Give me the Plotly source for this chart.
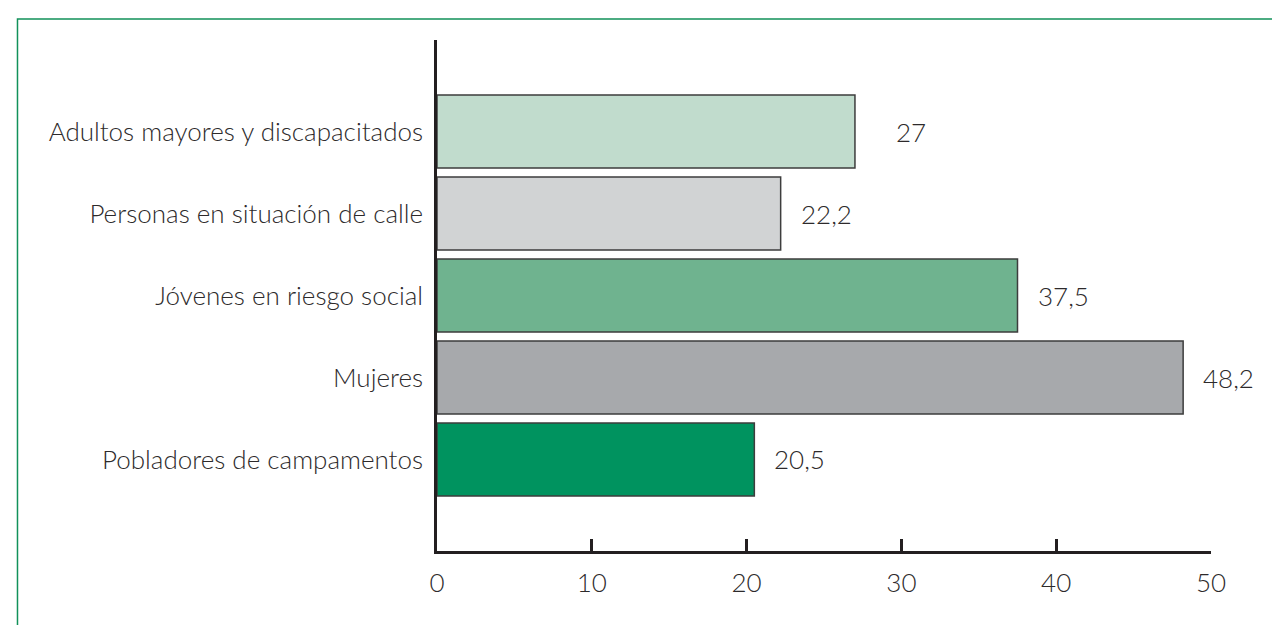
import plotly.graph_objects as go

# Data (top to bottom as in the reference)
categories = [
    "Adultos mayores y discapacitados",
    "Personas en situación de calle",
    "Jóvenes en riesgo social",
    "Mujeres",
    "Pobladores de campamentos",
]
values = [27, 22.2, 37.5, 48.2, 20.5]
bar_colors = ["#c1dccd", "#d1d3d4", "#6fb38f", "#a7a9ac", "#00935f"]
x_ticks = [0, 10, 20, 30, 40, 50]

FONT = "Lato, 'Open Sans', sans-serif"
FSIZE = 26
TEXT_COLOR = "#2d2a2b"
AXIS_COLOR = "#231f20"

cats_bottom_up = categories[::-1]
vals_bottom_up = values[::-1]
cols_bottom_up = bar_colors[::-1]

fig = go.Figure()
fig.add_trace(go.Bar(
    x=vals_bottom_up,
    y=cats_bottom_up,
    orientation="h",
    width=0.89,
    marker=dict(color=cols_bottom_up, line=dict(color="#3d3d3d", width=1.5)),
    hoverinfo="x+y",
    showlegend=False,
))

for c, v in zip(categories, values):
    fig.add_annotation(
        x=v, y=c, xref="x", yref="y",
        text=f"{v:g}".replace(".", ","),
        showarrow=False, xanchor="right", xshift=73,
        font=dict(family=FONT, size=FSIZE, color=TEXT_COLOR, weight=300),
    )

# outer frame (only top/left visible in the image)
fig.add_shape(
    type="rect", xref="paper", yref="paper",
    x0=-0.542, x1=2.0, y0=-2.0, y1=1.0411,
    line=dict(color="#12915a", width=1.5), fillcolor="rgba(0,0,0,0)",
    layer="below",
)

fig.update_layout(
    width=1280, height=625,
    margin=dict(l=429, r=77, t=32, b=82),
    paper_bgcolor="white", plot_bgcolor="white",
    font=dict(family=FONT, size=FSIZE, color=TEXT_COLOR, weight=300),
    xaxis=dict(
        range=[0, 50], tickvals=x_ticks, ticktext=[str(t) for t in x_ticks],
        showgrid=False, zeroline=False,
        showline=True, linecolor=AXIS_COLOR, linewidth=2.5,
        ticks="inside", ticklen=12, tickwidth=2.5, tickcolor=AXIS_COLOR,
        ticklabelstandoff=7, fixedrange=True,
        tickfont=dict(family=FONT, size=FSIZE, color=TEXT_COLOR, weight=300),
    ),
    yaxis=dict(
        type="category", categoryorder="array", categoryarray=cats_bottom_up,
        range=[-1.116, 5.116],
        showgrid=False, zeroline=False,
        showline=True, linecolor=AXIS_COLOR, linewidth=2.5,
        ticks="", ticklabelstandoff=6, fixedrange=True,
        tickfont=dict(family=FONT, size=FSIZE, color=TEXT_COLOR, weight=300),
    ),
)

fig.write_html("out.html")
